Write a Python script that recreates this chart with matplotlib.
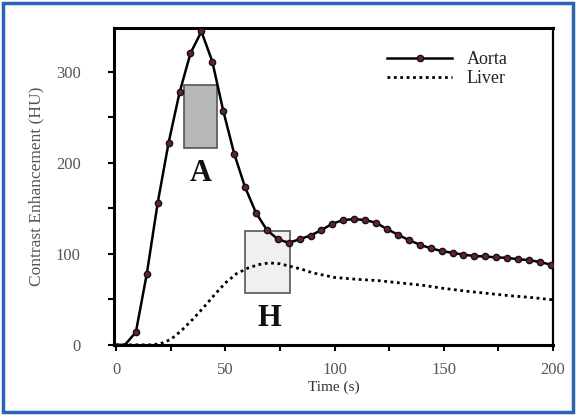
import matplotlib
matplotlib.use("Agg")
import matplotlib.pyplot as plt
from matplotlib.patches import Rectangle

# aorta curve (time in s, enhancement in HU)
aorta_t = [0, 4, 9, 14, 19, 24, 29, 34, 39, 44, 49, 54, 59, 64, 69, 74, 79, 84, 89, 94,
           99, 104, 109, 114, 119, 124, 129, 134, 139, 144, 149, 154, 159, 164, 169,
           174, 179, 184, 189, 194, 199]
aorta_hu = [0, 0, 14, 78, 156, 222, 277, 320, 344, 311, 257, 210, 173, 145, 126, 116,
            112, 116, 120, 126, 133, 137, 138, 137, 134, 127, 121, 115, 110, 106, 103,
            101, 99, 97.5, 97, 96, 95.5, 94, 93, 91, 88]

# liver curve
liver_t = [0, 10, 15, 20, 25, 30, 35, 40, 45, 50, 55, 60, 65, 70, 75, 80, 85, 90, 95,
           100, 110, 120, 130, 140, 150, 160, 170, 180, 190, 200]
liver_hu = [0, 0, 0, 1, 6, 16, 28, 41, 55, 68, 78, 84, 88, 90, 89, 86, 83, 79, 76.5,
            74, 72, 70.5, 68, 65.5, 62, 59, 56.5, 54, 52, 49.5]

# shaded windows: label, t0, t1, hu0, hu1
boxes = [("A", 31, 46, 216, 285, "#b8b8b8"),
         ("H", 59, 79.5, 57, 125, "#f0f0f0")]
box_labels = {"A": (38.5, 188), "H": (70, 29)}

serif = ["Liberation Serif", "DejaVu Serif"]

fig = plt.figure(figsize=(5.76, 4.15), dpi=100)
fig.patch.set_facecolor("white")
fig.patches.append(Rectangle((0.006, 0.008), 0.988, 0.984, transform=fig.transFigure,
                             fill=False, edgecolor="#2a62b4", linewidth=2.5))

ax = fig.add_axes([0.198, 0.169, 0.762, 0.764])

for name, t0, t1, h0, h1, col in boxes:
    ax.add_patch(Rectangle((t0, h0), t1 - t0, h1 - h0, facecolor=col,
                           edgecolor="#555555", linewidth=1.2, zorder=1))
    lx, ly = box_labels[name]
    ax.text(lx, ly, name, family=serif, fontsize=22, fontweight="bold",
            ha="center", va="center", color="#111111")

ax.plot(aorta_t, aorta_hu, color="black", linewidth=1.8, marker="o", markersize=4.5,
        markerfacecolor="#6b2030", markeredgecolor="#111111", markeredgewidth=1,
        markevery=slice(2, None), label="Aorta", zorder=3)
ax.plot(liver_t, liver_hu, color="black", linewidth=2, linestyle=(0, (1, 1.3)),
        label="Liver", zorder=2)

ax.set_xlim(-1, 200)
ax.set_ylim(0, 348)
ax.set_xticks([0, 50, 100, 150, 200])
ax.set_xticks([25, 75, 125, 175], minor=True)
ax.set_yticks([0, 100, 200, 300])
ax.set_yticks([50, 150, 250], minor=True)

for side in ["left", "bottom", "top"]:
    ax.spines[side].set_linewidth(2.2)
ax.spines["right"].set_linewidth(1.6)

ax.tick_params(axis="both", which="both", direction="out", length=4, width=1.5,
               labelcolor="#555555", labelsize=12)
ax.tick_params(axis="y", pad=20)
ax.tick_params(axis="x", pad=8)
for lab in ax.get_xticklabels() + ax.get_yticklabels():
    lab.set_family(serif)

ax.set_xlabel("Time (s)", family=serif, fontsize=11, color="#333333", labelpad=2)
ax.set_ylabel("Contrast Enhancement (HU)", family=serif, fontsize=12.5,
              color="#555555", labelpad=8)

leg = ax.legend(loc="upper right", frameon=False, prop={"family": serif, "size": 13},
                handlelength=3.6, borderaxespad=0.9, labelspacing=0.1,
                bbox_to_anchor=(0.95, 1.0))
for t in leg.get_texts():
    t.set_color("#222222")

fig.savefig("out.png", dpi=100)
